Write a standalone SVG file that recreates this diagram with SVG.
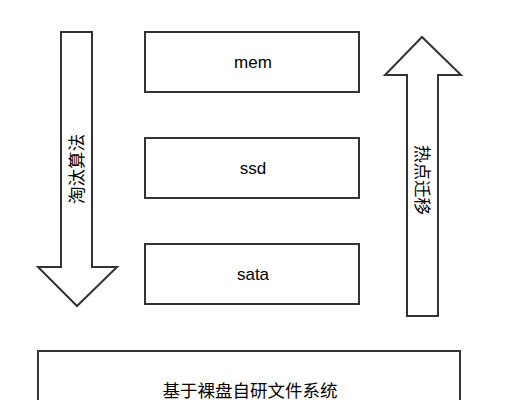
<svg xmlns="http://www.w3.org/2000/svg" width="506" height="400" viewBox="0 0 506 400">
<style>
.s{fill:#fff;stroke:#333;stroke-width:2}
.t{font-family:"Liberation Sans","Noto Sans CJK SC",sans-serif;font-size:17px;fill:#000;text-anchor:middle;dominant-baseline:central}
.c{font-size:17.5px}
</style>
<rect width="506" height="400" fill="#fff"/>
<g id="arrow-down">
<path class="s" d="M61,32 H92 V267 H117 L77,306 L38,267 H61 Z"/>
<text class="t c" transform="translate(77,169) rotate(-90)">淘汰算法</text>
</g>
<g id="arrow-up">
<path class="s" d="M407,316 H438 V75 H461 L422,37 L385,75 H407 Z"/>
<text class="t c" transform="translate(422,180) rotate(90)">热点迁移</text>
</g>
<g id="mem">
<rect class="s" x="145" y="32" width="214" height="60"/>
<text class="t" x="253" y="62">mem</text>
</g>
<g id="ssd">
<rect class="s" x="145" y="138" width="214" height="60"/>
<text class="t" x="253" y="168">ssd</text>
</g>
<g id="sata">
<rect class="s" x="145" y="244" width="214" height="60"/>
<text class="t" x="253" y="274">sata</text>
</g>
<g id="fs">
<rect class="s" x="38" y="351" width="422" height="60"/>
<text class="t c" x="250" y="391">基于裸盘自研文件系统</text>
</g>
<g id="connectors"></g>
</svg>
